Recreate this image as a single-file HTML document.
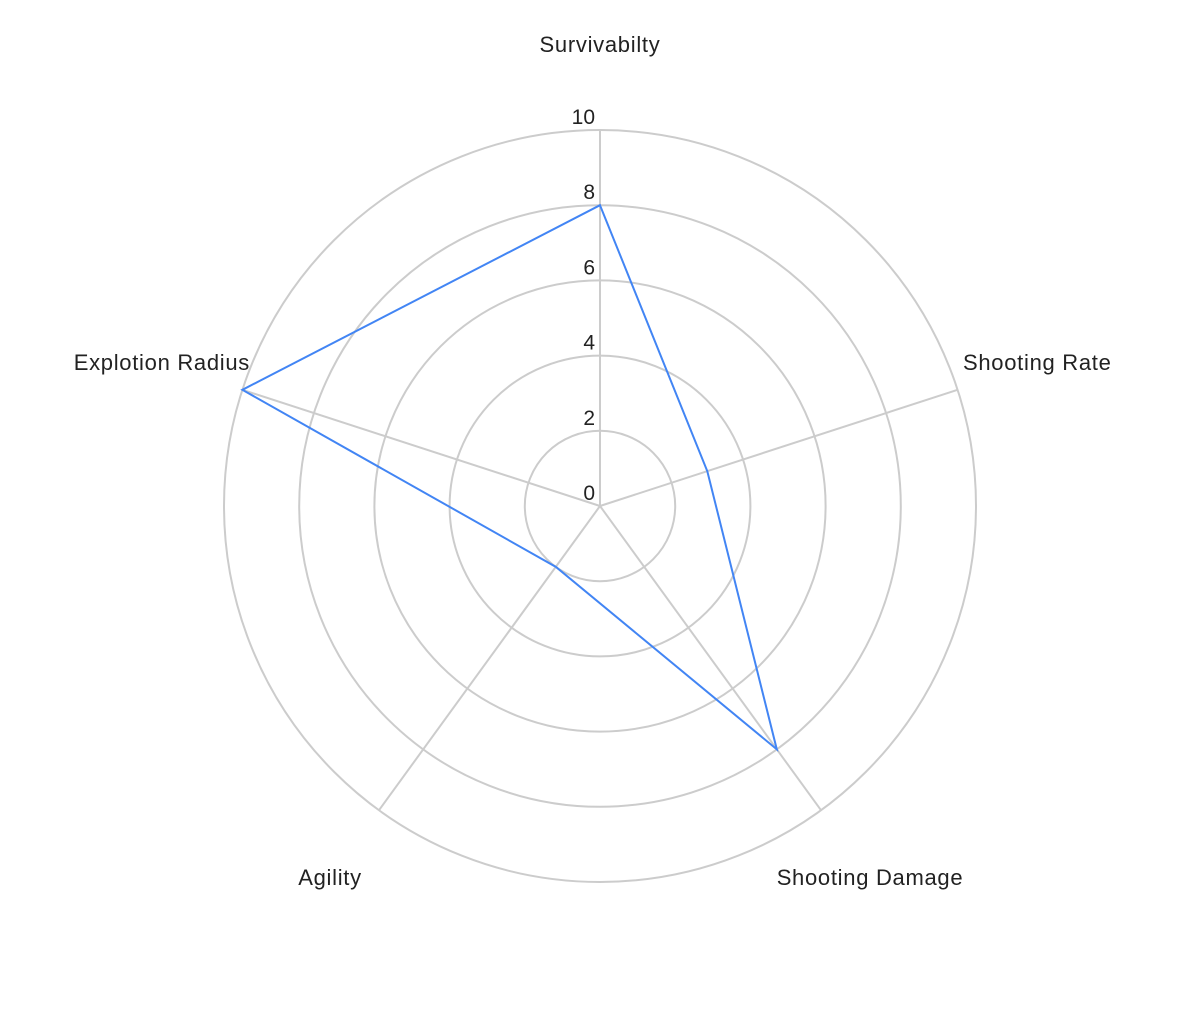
<!DOCTYPE html>
<html><head><meta charset="utf-8"><style>
html,body{margin:0;padding:0;background:#fff;}
svg text{font-family:"Liberation Sans",sans-serif;font-size:21px;fill:#222;}
svg text.cat{font-size:22px;letter-spacing:0.7px;}
</style></head><body>
<svg id="chart" width="1200" height="1011" xmlns="http://www.w3.org/2000/svg"></svg>
<script>
const categories = ["Survivabilty","Shooting Rate","Shooting Damage","Agility","Explotion Radius"];
const values = [8, 3, 8, 2, 10];
const ticks = [0, 2, 4, 6, 8, 10];
const maxVal = 10;

const cx = 600, cy = 506, R = 376;
const svg = document.getElementById('chart');
const NS = 'http://www.w3.org/2000/svg';
function ang(i){ return -Math.PI/2 + i*2*Math.PI/categories.length; }
function pt(i, v){ const r = v/maxVal*R; return [cx + r*Math.cos(ang(i)), cy + r*Math.sin(ang(i))]; }
function mk(tag, attrs){ const e = document.createElementNS(NS, tag); for (const k in attrs) e.setAttribute(k, attrs[k]); svg.appendChild(e); return e; }

ticks.forEach(t => {
  if (t === 0) return;
  const c = mk('circle', {cx: cx, cy: cy, r: t/maxVal*R, fill: 'none', stroke: '#cccccc', 'stroke-width': 2});
  
  
});
categories.forEach((c, i) => {
  const p = pt(i, maxVal);
  const l = mk('line', {x1: cx, y1: cy, x2: p[0], y2: p[1], stroke: '#cccccc', 'stroke-width': 2});
  
  
});
ticks.forEach(t => {
  const y = cy - t/maxVal*R - 6;
  const tx = mk('text', {x: 595, y: y, 'text-anchor': 'end'});
  tx.textContent = t;
  
  
});
const pts = values.map((v, i) => pt(i, v).join(',')).join(' ');
const poly = mk('polygon', {points: pts, fill: 'none', stroke: '#4285f4', 'stroke-width': 2, 'stroke-linejoin': 'miter'});



const labelPos = [[600, 52, 'middle'], [963, 370, 'start'], [870, 885, 'middle'], [330, 885, 'middle'], [250, 370, 'end']];
categories.forEach((c, i) => {
  const lp = labelPos[i];
  const tx = mk('text', {x: lp[0], y: lp[1], 'text-anchor': lp[2], 'class': 'cat'});
  tx.textContent = c;
  
  
});
</script>
</body></html>
